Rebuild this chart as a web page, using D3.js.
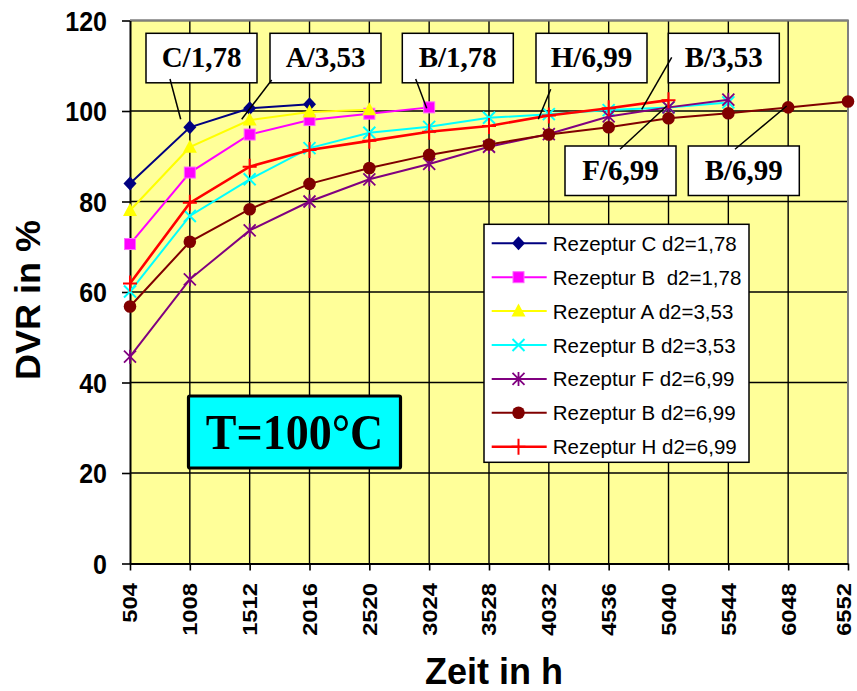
<!DOCTYPE html>
<html><head><meta charset="utf-8">
<script src="https://cdn.jsdelivr.net/npm/d3@7"></script>
<style>body{margin:0;background:#fff}svg{display:block}</style>
</head><body><svg id="c" width="857" height="691"></svg>
<script>
// ---- data ----
const hours = [504,1008,1512,2016,2520,3024,3528,4032,4536,5040,5544,6048,6552];
const yTicks = [0,20,40,60,80,100,120];
const seriesNames = ["Rezeptur C d2=1,78","Rezeptur B  d2=1,78","Rezeptur A d2=3,53","Rezeptur B d2=3,53","Rezeptur F d2=6,99","Rezeptur B d2=6,99","Rezeptur H d2=6,99"];
const valsC178 = [84.0,96.4,100.6,101.5];
const valsB178 = [70.6,86.4,94.8,98.0,99.4,100.8];
const valsA353 = [78.0,92.0,98.0,99.8,100.3];
const valsB353 = [60.1,76.8,84.9,91.8,95.2,96.5,98.5,99.3,100.2,100.8,101.9];
const valsF699 = [45.7,62.8,73.6,80.0,84.9,88.3,92.1,94.9,98.8,100.8,102.5];
const valsB699 = [56.8,71.1,78.3,83.9,87.4,90.3,92.6,94.8,96.4,98.4,99.5,100.8,102.1];
const valsH699 = [61.9,79.7,87.7,91.4,93.4,95.4,96.7,99.0,100.6,102.4];
const annoLabels = ["C/1,78","A/3,53","B/1,78","H/6,99","B/3,53","F/6,99","B/6,99"];
const tempLabel = "T=100°C";
const xTitle = "Zeit in h";
const yTitle = "DVR in %";

// ---- styles / layout ----
const colors = ["#000080","#FF00FF","#FFFF00","#00FFFF","#800080","#800000","#FF0000"];
const markers = ["diamond","square","triangle","x","star","circle","plus"];
const allVals = [valsC178,valsB178,valsA353,valsB353,valsF699,valsB699,valsH699];

const svg = d3.select("#c");
const L = 130, R = 848, T = 20.5, B = 563.5;
const x = d3.scaleLinear().domain([504,6552]).range([L,R]);
const y = d3.scaleLinear().domain([0,120]).range([B,T]);

// plot background
svg.append("rect").attr("x",L).attr("y",T).attr("width",R-L).attr("height",B-T).attr("fill","#FFFF99");
// grid
svg.append("g").selectAll("line").data(yTicks.slice(1)).join("line")
  .attr("x1",L).attr("x2",R).attr("y1",d=>y(d)).attr("y2",d=>y(d))
  .attr("stroke","#000").attr("stroke-width",1.4);
svg.append("g").selectAll("line").data(hours.slice(1,-1)).join("line")
  .attr("x1",d=>x(d)).attr("x2",d=>x(d)).attr("y1",T).attr("y2",B)
  .attr("stroke","#000").attr("stroke-width",1.4);
// border top/right
svg.append("path").attr("d",`M${L},${T}H${R}V${B}`).attr("fill","none").attr("stroke","#808080").attr("stroke-width",2);

// axes
const yAx = svg.append("g").attr("transform",`translate(${L},0)`)
  .call(d3.axisLeft(y).tickValues(yTicks).tickSize(8).tickPadding(0).tickSizeOuter(0));
yAx.select(".domain").attr("stroke","#000").attr("stroke-width",2);
yAx.selectAll(".tick line").attr("stroke","#000").attr("stroke-width",1.6);
yAx.selectAll(".tick text").attr("x",-23).attr("dy","0.36em")
  .attr("transform","scale(1,1.1)")
  .style("font-family","Arial, 'Liberation Sans', sans-serif").style("font-weight","bold").style("font-size","25px").attr("fill","#000");

const xAx = svg.append("g").attr("transform",`translate(0,${B})`)
  .call(d3.axisBottom(x).tickValues(hours).tickFormat(d3.format("d")).tickSize(7).tickSizeOuter(0));
xAx.select(".domain").attr("stroke","#000").attr("stroke-width",2);
xAx.selectAll(".tick line").attr("stroke","#000").attr("stroke-width",1.6);
xAx.selectAll(".tick text").attr("x",0).attr("y",0).attr("dy","0.34em")
  .attr("text-anchor","end")
  .attr("transform",(d,i)=>`translate(${i===hours.length-1?-4:0},19.5) scale(1,1.16) rotate(-90)`)
  .style("font-family","Arial, 'Liberation Sans', sans-serif").style("font-weight","bold").style("font-size","20.5px").attr("fill","#000");

// titles
svg.append("text").text(xTitle).attr("text-anchor","middle")
  .attr("transform","translate(494,684) scale(1.03,1.06)")
  .style("font-family","Arial, 'Liberation Sans', sans-serif").style("font-weight","bold").style("font-size","35px");
svg.append("text").text(yTitle).attr("text-anchor","middle")
  .attr("transform","translate(40,300) rotate(-90) scale(1.06,1.05)")
  .style("font-family","Arial, 'Liberation Sans', sans-serif").style("font-weight","bold").style("font-size","34px");

// markers
function drawMarker(g, type, color, cx, cy){
  if(type==="diamond"){
    g.append("path").attr("d",`M${cx},${cy-7}L${cx+6.5},${cy}L${cx},${cy+7}L${cx-6.5},${cy}Z`).attr("fill",color);
  } else if(type==="square"){
    g.append("rect").attr("x",cx-5.5).attr("y",cy-5.5).attr("width",11).attr("height",11).attr("fill",color).attr("stroke","#ff66ff").attr("stroke-width",1);
  } else if(type==="triangle"){
    g.append("path").attr("d",`M${cx},${cy-7.5}L${cx+7},${cy+5.5}L${cx-7},${cy+5.5}Z`).attr("fill",color);
  } else if(type==="x"){
    g.append("path").attr("d",`M${cx-6},${cy-6}L${cx+6},${cy+6}M${cx-6},${cy+6}L${cx+6},${cy-6}`).attr("stroke",color).attr("stroke-width",2);
  } else if(type==="star"){
    g.append("path").attr("d",`M${cx-6},${cy-6}L${cx+6},${cy+6}M${cx-6},${cy+6}L${cx+6},${cy-6}M${cx},${cy-7}V${cy+7}`).attr("stroke",color).attr("stroke-width",1.8);
  } else if(type==="circle"){
    g.append("circle").attr("cx",cx).attr("cy",cy).attr("r",6.3).attr("fill",color);
  } else if(type==="plus"){
    g.append("path").attr("d",`M${cx-7},${cy}H${cx+7}M${cx},${cy-8}V${cy+8}`).attr("stroke",color).attr("stroke-width",2);
  }
}

const line = d3.line().x((d,i)=>x(hours[i])).y(d=>y(d));
allVals.forEach((vals,si)=>{
  const g = svg.append("g");
  g.append("path").attr("d",line(vals)).attr("fill","none").attr("stroke",colors[si])
    .attr("stroke-width", si===6 ? 2.6 : 2);
  vals.forEach((v,i)=>drawMarker(g, markers[si], colors[si], x(hours[i]), y(v)));
});

// annotation boxes (layout)
const annoBoxes = [
  {bx:146,by:33.3,lx1:170,ly1:79,lx2:180.7,ly2:119.3},
  {bx:270,by:33.3,lx1:271.7,ly1:80,lx2:241.7,ly2:119.3},
  {bx:402.3,by:33.3,lx1:415.7,ly1:79,lx2:426.7,ly2:108.3},
  {bx:536,by:33.3,lx1:550.7,ly1:89.3,lx2:538.3,ly2:119.3},
  {bx:668.3,by:33.3,lx1:671.7,ly1:57.3,lx2:641.7,ly2:109.3},
  {bx:565,by:146,lx1:620,ly1:149.3,lx2:666.7,ly2:106},
  {bx:688.3,by:146,lx1:735,ly1:149.3,lx2:786.7,ly2:106}
];
const annoG = svg.append("g");
annoLabels.forEach((t,i)=>{
  const b = annoBoxes[i];
  annoG.append("rect").attr("x",b.bx).attr("y",b.by).attr("width",111).attr("height",49.5)
    .attr("fill","#fff").attr("stroke","#000").attr("stroke-width",1.5);
  annoG.append("text").text(t).attr("x",b.bx+55.5).attr("y",b.by+33.5).attr("text-anchor","middle")
    .style("font-family","'Times New Roman','Liberation Serif',serif").style("font-weight","bold").style("font-size","29px");
});
annoLabels.forEach((t,i)=>{
  const b = annoBoxes[i];
  annoG.append("line").attr("x1",b.lx1).attr("y1",b.ly1).attr("x2",b.lx2).attr("y2",b.ly2)
    .attr("stroke","#000").attr("stroke-width",1.5);
});

// temperature box
svg.append("rect").attr("x",188.5).attr("y",396).attr("width",212).attr("height",72)
  .attr("fill","#00FFFF").attr("stroke","#000").attr("stroke-width",3.2).attr("rx",1.5);
svg.append("text").text(tempLabel).attr("text-anchor","middle")
  .attr("transform","translate(294.5,448.5) scale(1,1.1)")
  .style("font-family","'Times New Roman','Liberation Serif',serif").style("font-weight","bold").style("font-size","46px");

// legend
const lg = svg.append("g");
lg.append("rect").attr("x",484).attr("y",224.3).attr("width",265).attr("height",238)
  .attr("fill","#fff").attr("stroke","#000").attr("stroke-width",1.5);
seriesNames.forEach((n,i)=>{
  const cy = 243.3 + i*33.9;
  const g = lg.append("g");
  g.append("line").attr("x1",491.7).attr("x2",546.7).attr("y1",cy).attr("y2",cy)
    .attr("stroke",colors[i]).attr("stroke-width", i===6 ? 2.4 : 2);
  drawMarker(g, markers[i], colors[i], 518.5, cy);
  g.append("text").text(n).attr("x",552.7).attr("y",cy+7.5).attr("xml:space","preserve")
    .style("white-space","pre")
    .style("font-family","Arial, 'Liberation Sans', sans-serif").style("font-size","20.5px");
});
</script>
</body></html>
